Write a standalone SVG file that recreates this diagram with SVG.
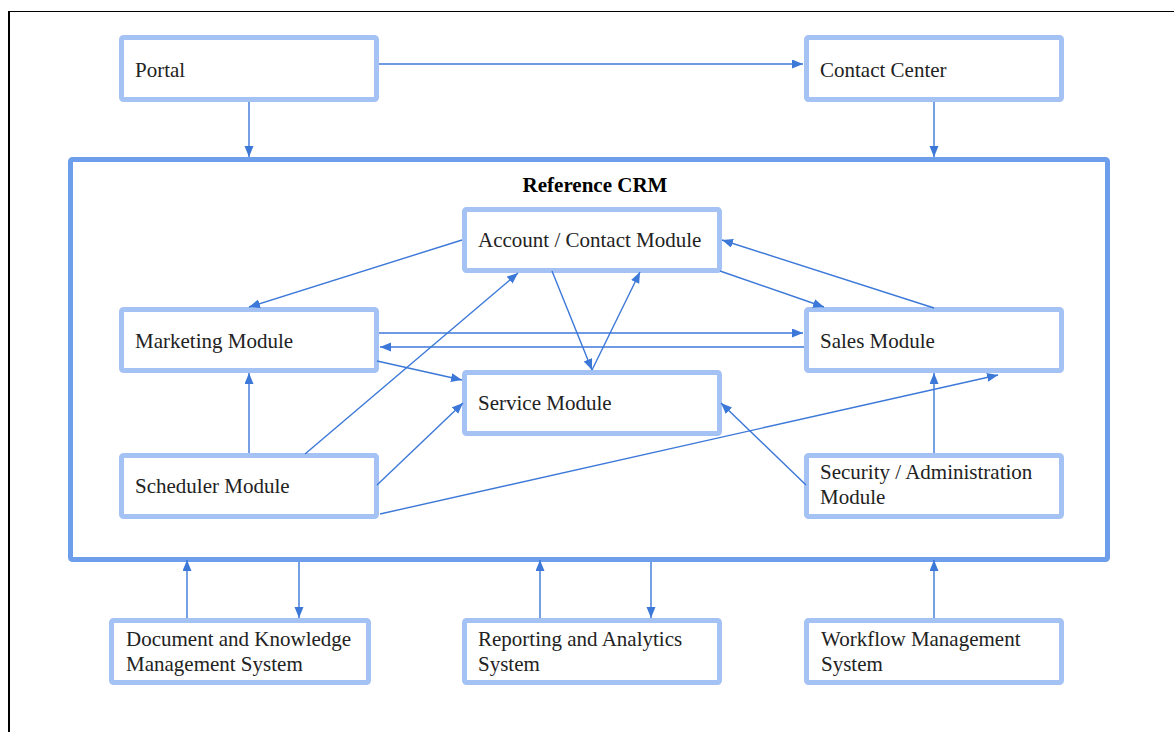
<svg xmlns="http://www.w3.org/2000/svg" width="1174" height="732" viewBox="0 0 1174 732">
<style>
.node{fill:#fff;stroke:#a4c2f4;stroke-width:5}
.crm{fill:#fff;stroke:#6d9eeb;stroke-width:5}
text{font-size:21px;fill:#222}
.tb{font-weight:bold;fill:#000}
.c line{stroke:#3c78d8;stroke-width:1.4;fill:none}
</style>
<defs>
<marker id="a" markerUnits="userSpaceOnUse" markerWidth="12" markerHeight="10" refX="11" refY="4.5" orient="auto">
<path d="M0,0 L11,4.5 L0,9 z" fill="#3c78d8"/>
</marker>
</defs>
<rect x="0" y="0" width="1174" height="732" fill="#fff"/>
<line x1="9" y1="11.5" x2="1174" y2="11.5" stroke="#000" stroke-width="1.2"/>
<line x1="9" y1="11" x2="9" y2="732" stroke="#000" stroke-width="2"/>
<g font-family="Liberation Serif, Times New Roman, serif">
<g id="crm"><rect class="crm" x="70.5" y="159.5" width="1037" height="400" rx="2"/><text class="tb" x="595" y="192" text-anchor="middle">Reference CRM</text></g>
<g id="portal"><rect class="node" x="121.5" y="37.5" width="255" height="62" rx="2"/><text x="135" y="77">Portal</text></g>
<g id="contact-center"><rect class="node" x="806.5" y="37.5" width="255" height="62" rx="2"/><text x="820" y="77">Contact Center</text></g>
<g id="account"><rect class="node" x="464.5" y="209.5" width="255" height="61" rx="2"/><text x="478" y="247">Account / Contact Module</text></g>
<g id="marketing"><rect class="node" x="121.5" y="309.5" width="255" height="61" rx="2"/><text x="135" y="348">Marketing Module</text></g>
<g id="sales"><rect class="node" x="806.5" y="309.5" width="255" height="61" rx="2"/><text x="820" y="348">Sales Module</text></g>
<g id="service"><rect class="node" x="464.5" y="372.5" width="255" height="61" rx="2"/><text x="478" y="410">Service Module</text></g>
<g id="scheduler"><rect class="node" x="121.5" y="455.5" width="255" height="61" rx="2"/><text x="135" y="493">Scheduler Module</text></g>
<g id="security"><rect class="node" x="806.5" y="455.5" width="255" height="61" rx="2"/><text x="820" y="479">Security / Administration</text><text x="820" y="504">Module</text></g>
<g id="document"><rect class="node" x="111.5" y="620.5" width="257" height="62" rx="2"/><text x="126" y="646">Document and Knowledge</text><text x="126" y="671">Management System</text></g>
<g id="reporting"><rect class="node" x="464.5" y="620.5" width="255" height="62" rx="2"/><text x="478" y="646">Reporting and Analytics</text><text x="478" y="671">System</text></g>
<g id="workflow"><rect class="node" x="806.5" y="620.5" width="255" height="62" rx="2"/><text x="821" y="646">Workflow Management</text><text x="821" y="671">System</text></g>
</g>
<g class="c" id="connectors">
<line x1="379" y1="64" x2="803" y2="64" marker-end="url(#a)"/>
<line x1="249" y1="102" x2="249" y2="157" marker-end="url(#a)"/>
<line x1="934" y1="102" x2="934" y2="157" marker-end="url(#a)"/>
<line x1="462" y1="240" x2="249" y2="307" marker-end="url(#a)"/>
<line x1="720" y1="271" x2="824" y2="307" marker-end="url(#a)"/>
<line x1="934" y1="308" x2="722" y2="240" marker-end="url(#a)"/>
<line x1="552" y1="271" x2="592" y2="370" marker-end="url(#a)"/>
<line x1="592" y1="370" x2="640" y2="272" marker-end="url(#a)"/>
<line x1="379" y1="333" x2="803" y2="333" marker-end="url(#a)"/>
<line x1="804" y1="347" x2="380" y2="347" marker-end="url(#a)"/>
<line x1="377" y1="361" x2="462" y2="380" marker-end="url(#a)"/>
<line x1="249" y1="453" x2="249" y2="373" marker-end="url(#a)"/>
<line x1="305" y1="454" x2="518" y2="273" marker-end="url(#a)"/>
<line x1="377" y1="485" x2="463" y2="403" marker-end="url(#a)"/>
<line x1="380" y1="514" x2="998" y2="375" marker-end="url(#a)"/>
<line x1="934" y1="453" x2="934" y2="373" marker-end="url(#a)"/>
<line x1="806" y1="485" x2="721" y2="403" marker-end="url(#a)"/>
<line x1="187" y1="618" x2="187" y2="560" marker-end="url(#a)"/>
<line x1="299" y1="562" x2="299" y2="618" marker-end="url(#a)"/>
<line x1="540" y1="618" x2="540" y2="560" marker-end="url(#a)"/>
<line x1="651" y1="562" x2="651" y2="618" marker-end="url(#a)"/>
<line x1="934" y1="618" x2="934" y2="560" marker-end="url(#a)"/>
</g>
</svg>
